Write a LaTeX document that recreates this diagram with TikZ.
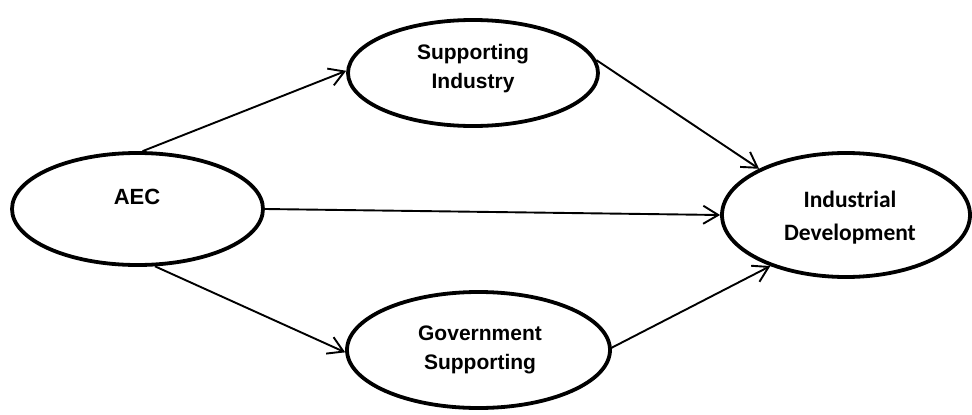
\documentclass[tikz,border=0pt]{standalone}
\usepackage{fontspec}
\setmainfont{Liberation Sans}
\newfontfamily\calibrilike{Carlito}
\usetikzlibrary{shapes.geometric,arrows.meta}
\begin{document}
\begin{tikzpicture}[x=1pt,y=-1pt,
  oval/.style={ellipse,draw=black,line width=3.8pt,fill=white,inner sep=0pt},
  caption/.style={align=center,font=\bfseries\fontsize{21}{29}\selectfont},
  link/.style={line width=1.9pt,-{Straight Barb[length=15pt,width=18pt]}}]
  \useasboundingbox (0,0) rectangle (972,415);

  % construct ellipses
  \node[oval,minimum width=251pt,minimum height=112pt] (aec) at (137.5,209) {};
  \node[oval,minimum width=250pt,minimum height=106pt] (si)  at (473,73) {};
  \node[oval,minimum width=263pt,minimum height=116pt] (gov) at (478.5,350) {};
  \node[oval,minimum width=248pt,minimum height=124pt] (id)  at (846,215) {};

  % construct names
  \node[caption,font=\bfseries\fontsize{22}{29}\selectfont] (aect) at (137,197) {AEC};
  \node[caption] (sit) at (473,69) {Supporting\\Industry};
  \node[caption] (govt) at (480,350) {Government\\Supporting};
  \node[caption,font=\calibrilike\bfseries\fontsize{23.5}{33}\selectfont] (idt) at (850,218) {Industrial\\Development};

  % paths
  \draw[link] (aec.85)  -- (si.179);
  \draw[link] (aec.east) -- (id.west);
  \draw[link] (aec.-73) -- (gov.181);
  \draw[link] (si.6)    -- (id.152);
  \draw[link] (gov.1)   -- (id.214);
\end{tikzpicture}
\end{document}
